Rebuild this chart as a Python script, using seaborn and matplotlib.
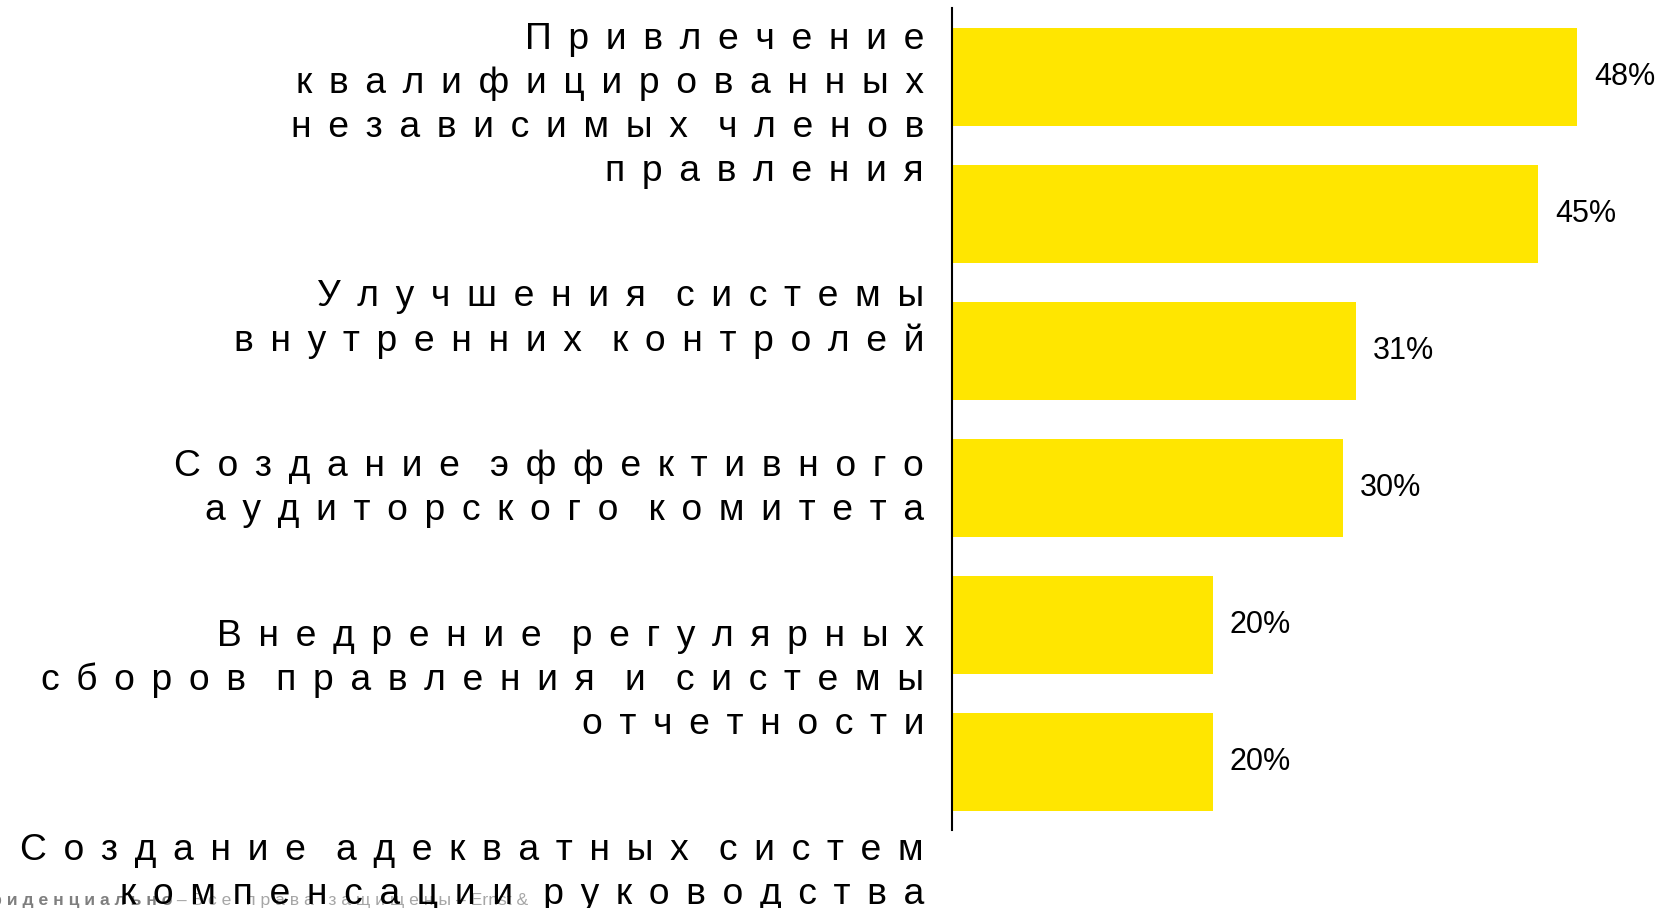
import matplotlib
matplotlib.use('Agg')
import matplotlib.pyplot as plt
import seaborn as sns
import pandas as pd
from matplotlib.transforms import blended_transform_factory, offset_copy

# ---------------- data ----------------
bar_ids = ['1', '2', '3', '4', '5', '6']
values = [48, 45, 31, 30, 20, 20]
value_labels = ['48%', '45%', '31%', '30%', '20%', '20%']
labels = [
    ["Привлечение", "квалифицированных", "независимых членов", "правления"],
    ["Улучшения системы", "внутренних контролей"],
    ["Создание эффективного", "аудиторского комитета"],
    ["Внедрение регулярных", "сборов правления и системы", "отчетности"],
    ["Создание адекватных систем", "компенсации руководства"],
]
footer_bold = "Конфиденциально"
footer_rest = "Все права защищены"
footer_tail = "Ernst &"

# ---------------- layout ----------------
label_y = [0.205, 1.765, 3.005, 4.405, 5.805]   # label block centres (bar units)
W, H, DPI = 1659, 908, 100
ax_left, ax_right, ax_top, ax_bottom = 952, 1659, 8.5, 830.5
px_per_unit = 13.03

sns.set_theme(style='white')
plt.rcParams['font.family'] = ['Liberation Sans', 'DejaVu Sans']

fig = plt.figure(figsize=(W / DPI, H / DPI), dpi=DPI, facecolor='white')
ax = fig.add_axes([ax_left / W, 1 - ax_bottom / H,
                   (ax_right - ax_left) / W, (ax_bottom - ax_top) / H])
ax.patch.set_visible(False)

df = pd.DataFrame({'bar': bar_ids, 'value': values})
sns.barplot(data=df, x='value', y='bar', orient='h', color='#FFE600',
            saturation=1, width=0.72, linewidth=0, ax=ax)

ax.set_xlim(0, (ax_right - ax_left) / px_per_unit)
ax.set_ylim(5.5, -0.5)
ax.set_xticks([])
ax.set_yticks([])
ax.set_xlabel('')
ax.set_ylabel('')
for s in ['top', 'right', 'bottom']:
    ax.spines[s].set_visible(False)
ax.spines['left'].set_color('black')
ax.spines['left'].set_linewidth(1.5)

ax.bar_label(ax.containers[0], labels=value_labels, padding=12.2,
             fontsize=22, color='black')

SP = ' \u2006'                  # letter spacing
WORD = SP + ' ' + '\u200A'      # word gap


def spaced_line(line):
    return WORD.join(SP.join(word) for word in line.split(' '))


trans = offset_copy(blended_transform_factory(ax.transAxes, ax.transData),
                    fig=fig, x=-28, y=0, units='dots')
for lines, y in zip(labels, label_y):
    ax.text(0, y, '\n'.join(spaced_line(l) for l in lines), transform=trans,
            ha='right', va='center', fontsize=26.8, linespacing=1.335,
            color='black', clip_on=False)

fig.text(172 / W, 3 / H, ' '.join(footer_bold), ha='right', va='baseline',
         fontsize=12.6, fontweight='bold', color='#7f7f7f', zorder=-1)
fig.text(172 / W, 3 / H,
         ' – ' + '   '.join(' '.join(w) for w in footer_rest.split(' '))
         + ' – ' + footer_tail,
         ha='left', va='baseline', fontsize=12.6, color='#a6a6a6', zorder=-1)

fig.savefig('out.png', dpi=DPI, facecolor='white')
